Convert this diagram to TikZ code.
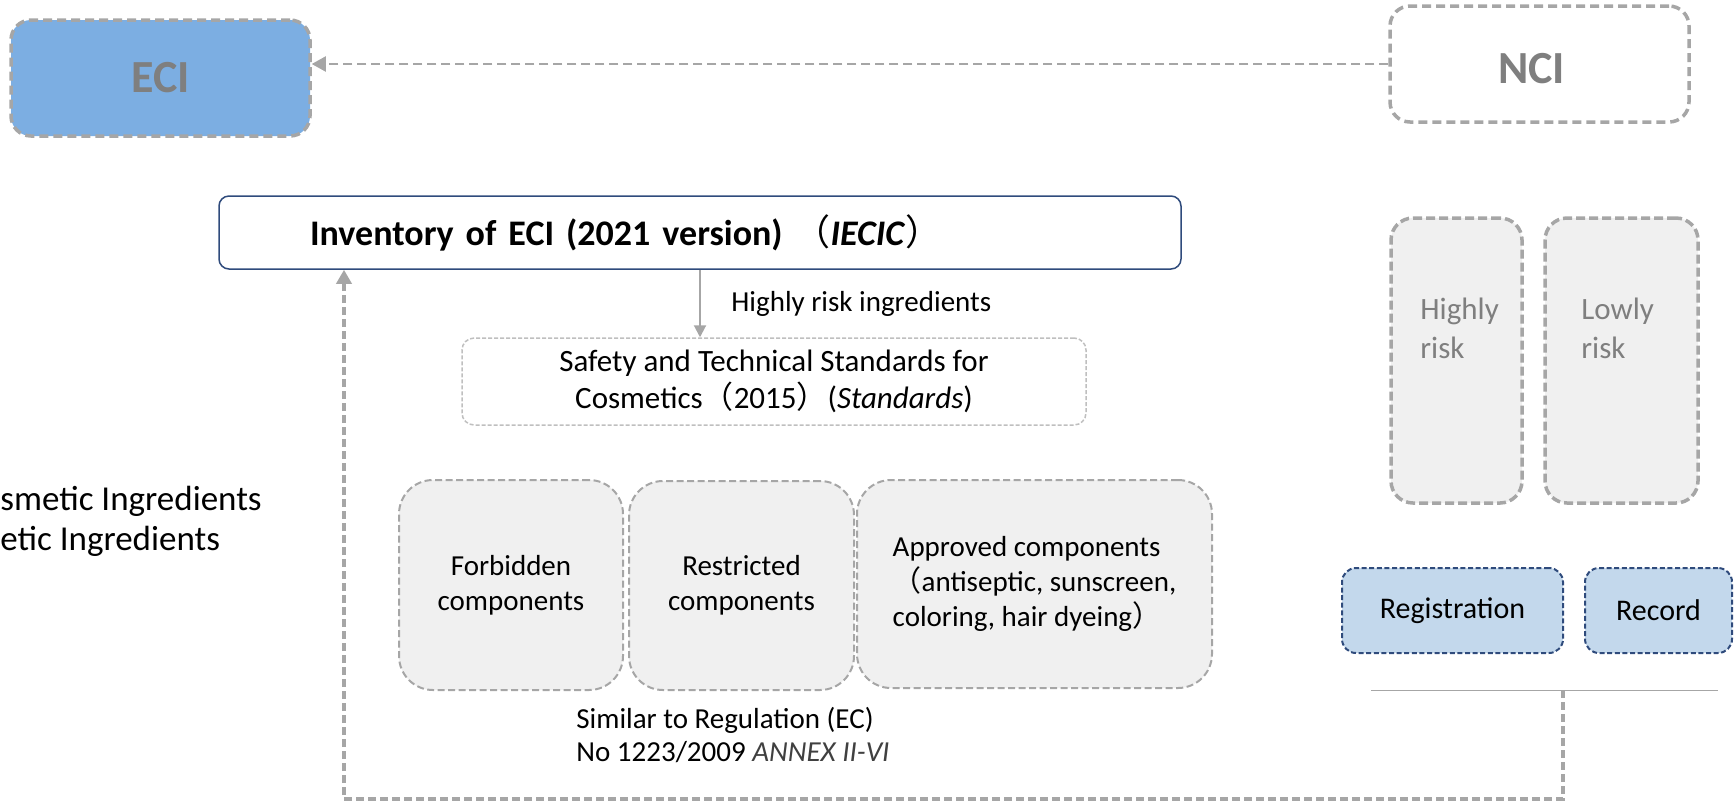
\documentclass[tikz,border=0pt]{standalone}
\usepackage{fontspec}
\setmainfont{Carlito}
\newfontfamily\cjk{Noto Sans CJK SC}
\usetikzlibrary{arrows.meta}
\definecolor{bordergray}{HTML}{A6A6A6}
\definecolor{lightborder}{HTML}{BFBFBF}
\definecolor{boxfill}{HTML}{F0F0F0}
\definecolor{eciblue}{HTML}{7CAEE2}
\definecolor{regblue}{HTML}{C3D8EC}
\definecolor{navy}{HTML}{2F4B7C}
\definecolor{labelgray}{HTML}{7F7F7F}
\definecolor{annexgray}{HTML}{404040}
\begin{document}
\begin{tikzpicture}[x=0.5pt,y=-0.5pt,
  topbox/.style={draw=bordergray, line width=1.75pt, dash pattern=on 4.5pt off 2.5pt,
    rounded corners=10pt, inner sep=0pt, minimum width=149.5pt, minimum height=58pt,
    font=\fontsize{23}{27}\selectfont\bfseries, text=labelgray},
  invbox/.style={draw=navy, line width=0.75pt, rounded corners=5pt, fill=white,
    inner xsep=45.5pt, inner ysep=0pt, text width=390pt, align=left, minimum height=36.5pt,
    font=\fontsize{18}{22}\selectfont\bfseries},
  stdbox/.style={draw=lightborder, line width=0.75pt, dash pattern=on 2pt off 1pt,
    rounded corners=6pt, fill=white, inner sep=0pt, minimum width=312pt, minimum height=43.5pt,
    align=center, font=\fontsize{15.5}{18.5}\selectfont},
  compbox/.style={draw=bordergray, line width=1pt, dash pattern=on 3.5pt off 1.75pt,
    rounded corners=17pt, fill=boxfill, inner sep=0pt, align=center,
    font=\fontsize{14.5}{17.5}\selectfont},
  riskbox/.style={draw=bordergray, line width=1.75pt, dash pattern=on 4.5pt off 2pt,
    rounded corners=11pt, fill=boxfill, inner sep=0pt, minimum height=142.5pt},
  risktext/.style={inner sep=0pt, align=left, text=labelgray,
    font=\fontsize{15.5}{19.5}\selectfont},
  regbox/.style={draw=navy, line width=1pt, dash pattern=on 2.5pt off 1.3pt,
    rounded corners=7pt, fill=regblue, inner sep=0pt, minimum height=42.5pt,
    font=\fontsize{15}{18}\selectfont},
  plaintext/.style={inner sep=0pt, font=\fontsize{14.5}{16.5}\selectfont},
  sidetext/.style={inner sep=0pt, font=\fontsize{17.5}{20}\selectfont},
  ncarrow/.style={draw=bordergray, line width=1pt, dash pattern=on 4.5pt off 2.5pt,
    -{Triangle[length=7pt,width=7.5pt]}},
  solidarrow/.style={draw=bordergray, line width=1pt, -{Triangle[length=6pt,width=6pt]}},
  looparrow/.style={draw=bordergray, line width=1.75pt, dash pattern=on 4pt off 2pt,
    -{Triangle[length=7pt,width=7.5pt]}},
  thinline/.style={draw=bordergray, line width=0.5pt}
]
\useasboundingbox (0,0) rectangle (1734,805);

% top row
\node[topbox, fill=eciblue] (eci) at (160.5,78) {ECI};
\node[topbox, fill=white] (nci) at (1539.5,64) {\hspace*{-8pt}\raisebox{-2.2pt}[\height][\depth]{NCI}};
\draw[ncarrow] (nci.west) -- (eci.east |- nci.west);

% inventory and standards
\node[invbox] (inv) at (700,232.5) {Inventory of ECI (2021 version) {\cjk\mdseries （}\textit{IECIC}{\cjk\mdseries ）}};
\node[stdbox] (std) at (774,381.5) {Safety and Technical Standards for\\Cosmetics{\cjk （}2015{\cjk ）}(\textit{Standards})};
\draw[solidarrow] (inv.south) -- (inv.south |- std.north);
\node[plaintext, anchor=base west] (hri) at (731,311) {Highly risk ingredients};

% component boxes
\node[compbox, minimum width=112pt, minimum height=105pt] (forb) at (511,585) {Forbidden\\components};
\node[compbox, minimum width=112.5pt, minimum height=104.5pt] (restr) at (741.5,585.5) {Restricted\\components};
\node[compbox, minimum width=177.5pt, minimum height=104pt, align=left] (appr) at (1034.5,584)
  {Approved components\\{\cjk （}antiseptic, sunscreen,\\coloring, hair dyeing{\cjk ）}};
\node[plaintext, anchor=north west, align=left, font=\fontsize{14.5}{16.5}\selectfont] (sim) at (576,707)
  {Similar to Regulation (EC)\\No 1223/2009 {\color{annexgray}\itshape ANNEX II-VI}};

% left clipped texts
\node[sidetext, anchor=base west] (side1) at (0,510) {smetic Ingredients};
\node[sidetext, anchor=base west] (side2) at (0,550) {etic Ingredients};

% risk boxes
\node[riskbox, minimum width=65.5pt] (high) at (1456.5,360.5) {};
\node[riskbox, minimum width=76.5pt] (low) at (1621.5,360.5) {};
\node[risktext, anchor=north west] (hight) at (1420,298) {Highly\\risk};
\node[risktext, anchor=north west] (lowt) at (1581,298) {Lowly\\risk};

% registration / record
\node[regbox, minimum width=110.5pt] (reg) at (1452.5,610.5) {Registration};
\node[regbox, minimum width=73.5pt] (rec) at (1658.5,610.5) {Record};

% bottom line and loop
\coordinate (lineL) at (1371,690);
\coordinate (lineR) at (1718,690);
\coordinate (join) at (1563,690);
\coordinate (bot) at (344,799);
\draw[thinline] (lineL) -- (lineR);
\draw[looparrow, line join=miter] (join) |- (bot) -- (bot |- inv.south);
\end{tikzpicture}
\end{document}
